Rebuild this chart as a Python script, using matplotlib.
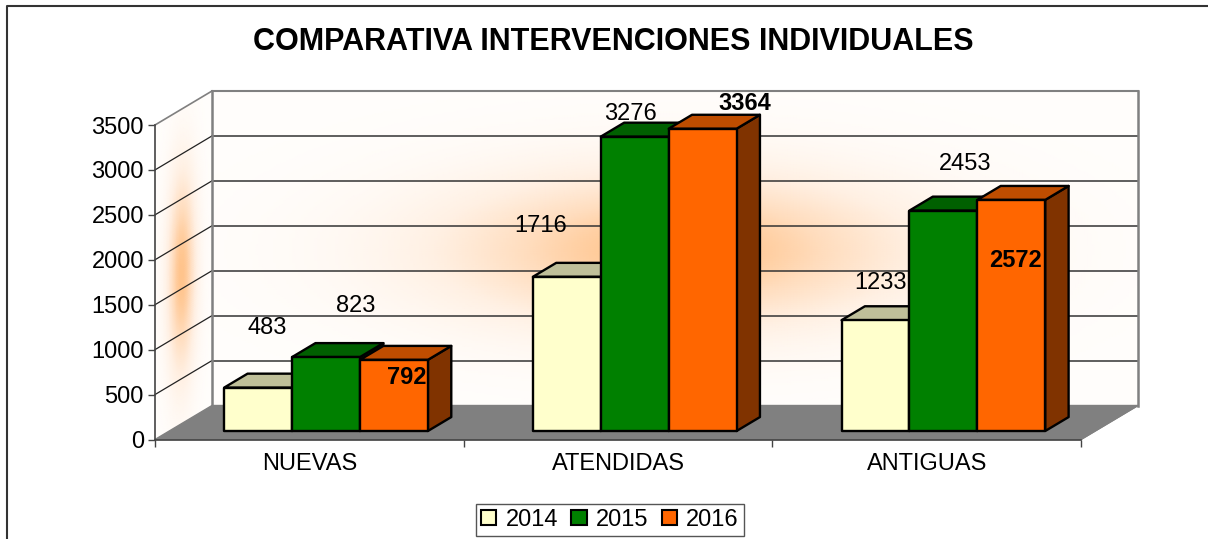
import numpy as np
import matplotlib
matplotlib.use("Agg")
import matplotlib.pyplot as plt
from matplotlib.colors import LinearSegmentedColormap
from matplotlib.lines import Line2D
from matplotlib.patches import Patch, Polygon

plt.rcParams['font.family'] = ['Liberation Sans', 'DejaVu Sans']

# ============================
# DATA
# ============================

CATEGORIES = ["NUEVAS", "ATENDIDAS", "ANTIGUAS"]
YEARS = ["2014", "2015", "2016"]
VALUES_2014 = [483, 1716, 1233]
VALUES_2015 = [823, 3276, 2453]
VALUES_2016 = [792, 3364, 2572]
Y_TICKS = [0, 500, 1000, 1500, 2000, 2500, 3000, 3500]

# ============================
# STYLE
# ============================

FRONT = ["#FFFFCC", "#008000", "#FF6600"]
TOP = ["#BFBF99", "#006000", "#BF4D00"]
SIDE = ["#808066", "#004000", "#803300"]

W, H = 1208, 539
LEFT, RIGHT, TOP_Y, BOTTOM_Y = 155, 1081, 125, 439.5
DEPTH_X, DEPTH_Y = 57, 34   # pixels from front plane to back wall
FONT = 17

# label offset from front top centre of each bar, pixels (series, category)
LABEL_OFFSETS = [
    [(9, 60), (-26, 51), (5, 37)],
    [(30, 51), (-4, 23), (22, 47)],
    [(13, -18), (42, 25), (4, -61)],
]

fig = plt.figure(figsize=(W / 100, H / 100), dpi=100)
ax = fig.add_axes([LEFT / W, 1 - BOTTOM_Y / H, (RIGHT - LEFT) / W, (BOTTOM_Y - TOP_Y) / H])
ax.set_xlim(0, 3)
ax.set_ylim(0, 3500)
ax.patch.set_visible(False)

dx = DEPTH_X * 3 / (RIGHT - LEFT)
dy = DEPTH_Y * 3500 / (BOTTOM_Y - TOP_Y)


def pt(x, v, d):
    return (x + d * dx, v + d * dy)


def face(points, **kw):
    ax.add_patch(Polygon(points, closed=True, clip_on=False, **kw))


def seg(p, q, **kw):
    ax.plot([p[0], q[0]], [p[1], q[1]], clip_on=False, **kw)


# walls
glow = LinearSegmentedColormap.from_list("glow", ["#FFFDFB", "#FFF0E3", "#FFDDBE", "#FFC48C"])

u = np.linspace(0, 3, 300)
v = np.linspace(0, 3500, 150)
U, V = np.meshgrid(u, v)
g = np.exp(-((U - 1.5) / 0.75) ** 2) * np.exp(-((V - 1730) / 850) ** 2)
ax.pcolormesh(U + dx, V + dy, g, cmap=glow, vmin=0, vmax=1, shading="gouraud", clip_on=False, zorder=1)

d = np.linspace(0, 1, 40)
D, V2 = np.meshgrid(d, v)
g2 = np.exp(-((D - 0.47) / 0.24) ** 2) * np.exp(-((V2 - 1680) / 1100) ** 2)
ax.pcolormesh(D * dx, V2 + D * dy, g2, cmap=glow, vmin=0, vmax=1, shading="gouraud", clip_on=False, zorder=1)

face([pt(0, 0, 0), pt(3, 0, 0), pt(3, 0, 1), pt(0, 0, 1)], facecolor="#808080", edgecolor="#808080", zorder=2)

for t in Y_TICKS[1:]:
    col = "#808080" if t == Y_TICKS[-1] else "#333333"
    seg(pt(0, t, 0), pt(0, t, 1), color="#808080" if t == Y_TICKS[-1] else "#222222", lw=1.2 if t == Y_TICKS[-1] else 0.9, zorder=2)
    seg(pt(0, t, 1), pt(3, t, 1), color=col, lw=1.5 if t == Y_TICKS[-1] else 1.1, zorder=2)

seg(pt(0, 0, 1), pt(0, 3500, 1), color="#808080", lw=1.8, zorder=2)
seg(pt(3, 0, 1), pt(3, 3500, 1), color="#808080", lw=1.8, zorder=2)
seg(pt(3, 0, 0), pt(3, 0, 1), color="#808080", lw=1, zorder=2)

# bars
BAR_W = 0.22
GROUP_START = 0.178
D0, D1 = 0.25, 0.66
series = [VALUES_2014, VALUES_2015, VALUES_2016]

z = 3
for c in range(len(CATEGORIES)):
    for s, vals in enumerate(series):
        val = vals[c]
        x0 = c + GROUP_START + s * BAR_W
        x1 = x0 + BAR_W
        kw = dict(edgecolor="black", linewidth=1.7, joinstyle="round", zorder=z)
        face([pt(x1, 0, D0), pt(x1, 0, D1), pt(x1, val, D1), pt(x1, val, D0)], facecolor=SIDE[s], **kw)
        face([pt(x0, val, D0), pt(x1, val, D0), pt(x1, val, D1), pt(x0, val, D1)], facecolor=TOP[s], **kw)
        face([pt(x0, 0, D0), pt(x1, 0, D0), pt(x1, val, D0), pt(x0, val, D0)], facecolor=FRONT[s], **kw)
        z += 1

# value labels
for s, vals in enumerate(series):
    for c, val in enumerate(vals):
        xc = c + GROUP_START + (s + 0.5) * BAR_W
        ax.annotate(str(val), xy=pt(xc, val, D0), xytext=(LABEL_OFFSETS[s][c][0] * 0.72, LABEL_OFFSETS[s][c][1] * 0.72),
                    textcoords="offset points", ha="center", va="center", fontsize=FONT,
                    fontweight="bold" if s == 2 else "normal", color="black", zorder=50, annotation_clip=False)

# axes
for name in ["top", "right"]:
    ax.spines[name].set_visible(False)
for name in ["left", "bottom"]:
    ax.spines[name].set_color("#444444")
    ax.spines[name].set_linewidth(1.2)
    ax.spines[name].set_zorder(2.5)

ax.set_yticks(Y_TICKS)
ax.set_xticks([0, 1, 2, 3])
ax.set_xticklabels([])
ax.set_xticks([0.5, 1.5, 2.5], minor=True)
ax.set_xticklabels(CATEGORIES, minor=True)
ax.tick_params(axis="x", which="minor", length=0, pad=10, labelsize=FONT)
ax.tick_params(axis="x", which="major", length=5, width=1, color="#444444")
ax.tick_params(axis="y", length=5, width=1, color="#444444", labelsize=FONT, pad=3)

fig.text(613 / W, 1 - 42 / H, "COMPARATIVA INTERVENCIONES INDIVIDUALES", ha="center", va="center",
         fontsize=22, fontweight="bold")

# legend
handles = [Patch(facecolor=FRONT[i], edgecolor="black", linewidth=1.5, label=YEARS[i]) for i in range(3)]
leg = fig.legend(handles=handles, ncol=3, loc="center", bbox_to_anchor=(610 / W, 1 - 520 / H), fontsize=FONT,
                 fancybox=False, framealpha=1, edgecolor="#555555", handlelength=0.65, handleheight=0.6,
                 handletextpad=0.4, columnspacing=0.55, borderpad=0.22, borderaxespad=0)

# outer frame, only left and top edges are inside the picture
fig.add_artist(Line2D([7 / W, 7 / W, 1], [0, 1 - 6 / H, 1 - 6 / H], transform=fig.transFigure, color="#333333", lw=1.5))

fig.savefig("out.png", dpi=100)
